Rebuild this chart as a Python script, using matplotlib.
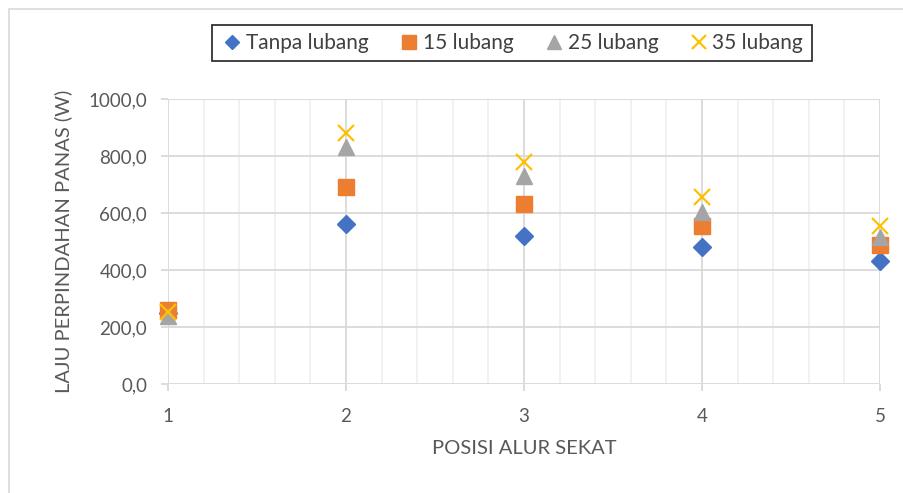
import matplotlib.pyplot as plt
from matplotlib.patches import Rectangle
from matplotlib.ticker import MultipleLocator, FuncFormatter

plt.rcParams['font.family'] = ['Lato', 'DejaVu Sans']

posisi = [1, 2, 3, 4, 5]
tanpa_lubang = [250, 560, 520, 480, 430]
lubang_15 = [260, 690, 630, 555, 488]
lubang_25 = [240, 830, 730, 605, 515]
lubang_35 = [253, 880, 780, 656, 556]

fig = plt.figure(figsize=(9.04, 4.93), dpi=100)
ax = fig.add_axes([168/904, 1 - 384/493, (880 - 168)/904, (384 - 99)/493])

# light chart border
fig.patches.append(Rectangle((9/904, -0.1), 1.2, 1 - 9/493 + 0.1, transform=fig.transFigure,
                             fill=False, edgecolor='#D9D9D9', linewidth=1.2))

ax.plot(posisi, tanpa_lubang, 'D', color='#4472C4', ms=9, label='Tanpa lubang', zorder=3, clip_on=False)
ax.plot(posisi, lubang_15, 's', color='#ED7D31', ms=12, label='15 lubang', zorder=3, clip_on=False)
ax.plot(posisi, lubang_25, '^', color='#A5A5A5', ms=12, label='25 lubang', zorder=3, clip_on=False)
ax.plot(posisi, lubang_35, 'x', color='#FFC000', ms=12, mew=1.6, label='35 lubang', zorder=3, clip_on=False)

ax.set_xlim(1, 5)
ax.set_ylim(0, 1000)
ax.xaxis.set_major_locator(MultipleLocator(1))
ax.xaxis.set_minor_locator(MultipleLocator(0.2))
ax.yaxis.set_major_locator(MultipleLocator(200))
ax.yaxis.set_major_formatter(FuncFormatter(lambda v, p: f'{v:.1f}'.replace('.', ',')))

ax.grid(which='major', color='#D9D9D9', linewidth=1.3, zorder=0)
ax.grid(which='minor', axis='x', color='#F0F0F0', linewidth=1.3, zorder=0)
for s in ax.spines.values():
    s.set_visible(False)
ax.tick_params(axis='both', which='major', colors='#D9D9D9', labelcolor='#595959',
               labelsize=13.5, length=5, width=1.3)
ax.tick_params(axis='y', pad=10)
ax.tick_params(axis='x', pad=12)
ax.tick_params(axis='x', which='minor', length=0)

ax.set_xlabel('POSISI ALUR SEKAT', fontsize=14.5, color='#595959', labelpad=11)
ax.set_ylabel('LAJU PERPINDAHAN PANAS (W)', fontsize=14.5, color='#595959', labelpad=12)

leg = fig.legend(loc='center', bbox_to_anchor=(512/904, 1 - 43/493), ncol=4,
                 fontsize=15, frameon=True, fancybox=False, handletextpad=0.1,
                 columnspacing=1.4, borderpad=0.4, handlelength=1.1, markerscale=0.8)
leg.get_frame().set_edgecolor('black')
leg.get_frame().set_linewidth(1.3)
for t in leg.get_texts():
    t.set_color('#404040')

fig.savefig('out.png', dpi=100)
